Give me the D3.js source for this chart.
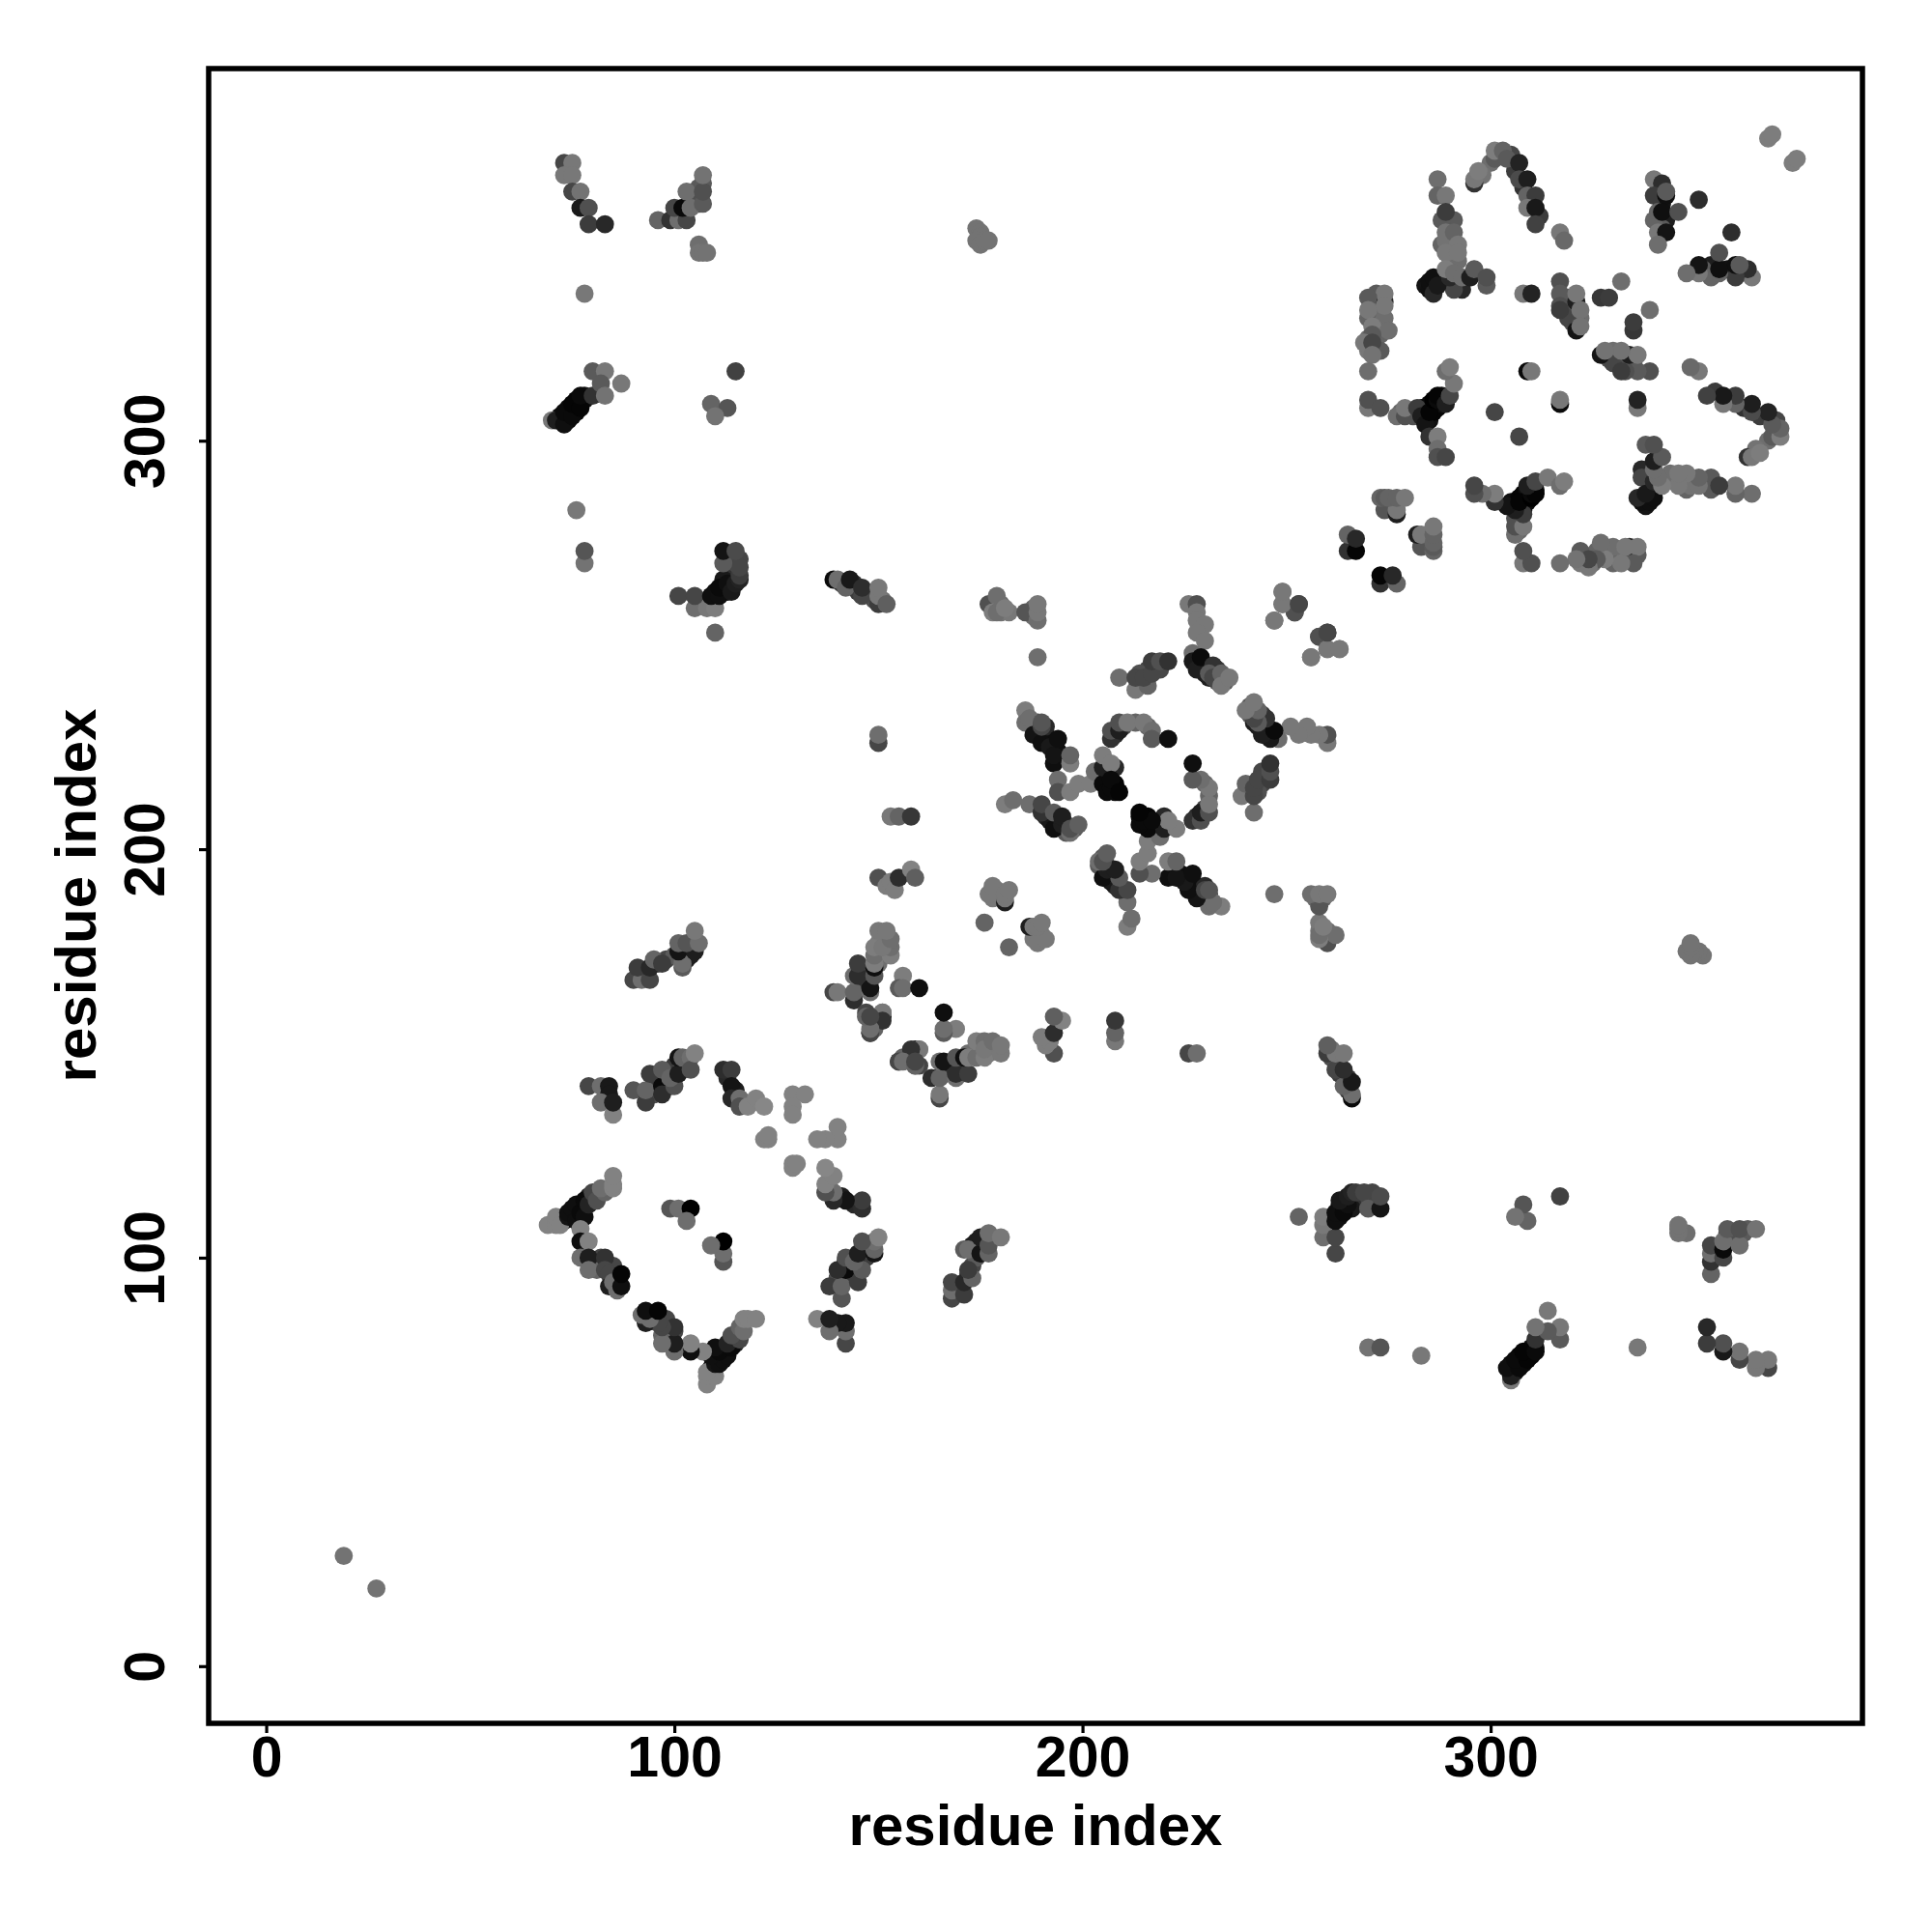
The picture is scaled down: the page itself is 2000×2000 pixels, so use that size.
<!DOCTYPE html>
<html><head><meta charset="utf-8">
<script src="https://cdnjs.cloudflare.com/ajax/libs/d3/7.8.5/d3.min.js"></script>
<style>html,body{margin:0;padding:0;background:#fff}svg{display:block}</style>
</head><body>
<svg id="chart" width="2000" height="2000"></svg>
<script>
// Each row: residue i, residue j, contact score. A contact (i,j) is also a contact (j,i).
const tailContacts = [[19,27,115]];
const packedA = [[73,109,15],[75,110,10],[75,111,15],[77,113,10],[79,114,25],[79,115,40],[81,116,70],[77,109,20],
 [80,99,40],[81,98,90],[85,96,60],[85,98,70],[86,94,40],[82,100,70],[81,97,100],
 [95,144,70],[98,143,30],[96,142,60],[99,142,40],[100,147,60],[103,147,40],[102,147,80],[95,140,80],
 [113,144,40],[115,141,30],[117,138,90],[119,138,120],
 [93,170,70],[98,173,70],[103,173,30],[104,174,30],[104,176,70],[100,174,90],[96,172,80],[92,169,60]];
const packedC = [[146,166,60],[147,168,50],[146,170,70],[148,168,90],[150,177,120],[151,178,120],[151,174,115],[150,172,110],
 [141,265,60],[144,265,50],[145,263,60],[148,262,90],[149,261,80],[151,261,110],[179,190,120],[180,189,120],[178,188,120],
 [180,258,115],[180,260,110],[182,258,120],[188,259,100],[188,257,110]];
const packedD = [[189,229,20],[191,228,15],[189,231,70],[191,230,40],[193,225,20],[194,224,15],
 [191,208,40],[192,207,25],[194,207,40],[196,206,70],[196,204,90],[198,205,90],
 [208,214,10],[206,216,10],[208,216,5],[208,220,40],[206,218,10],[210,230,70],[208,228,40],[213,231,100],[216,230,100],
 [214,240,70],[215,241,80],[218,245,60],[216,244,70],[219,244,70],[214,243,80],
 [229,245,15],[230,243,30],[233,244,60],[235,241,90],[233,241,90]];
const packedG = [[283,308,10],[284,306,10],[285,305,15],[285,309,10],[286,307,5],[287,308,5],[288,309,15],[288,311,20],
 [284,338,20],[286,338,15],[288,340,25],[292,338,80],[293,337,40],[291,339,30],[291,337,70],
 [271,334,100],[272,330,110],[273,326,100],[272,336,90],[272,322,110],[273,331,110],
 [280,307,90],[281,306,80],[278,307,100],[270,322,120],[274,327,100],[273,322,90],[270,330,100],[270,325,110],[274,330,110],
 [290,348,110],[291,347,110],[290,345,115],[292,344,110],[290,352,110],[291,354,90],[288,354,90],[290,350,110],[288,348,100],[289,349,115],
 [342,358,20],[343,354,30],[342,352,90],[340,354,100],
 [318,334,70],[319,335,90],[319,331,60],[320,329,80],[322,330,110],[320,333,80],[321,329,70],[321,331,80],[318,335,90],[319,330,70],
 [302,370,100],[305,370,70],[306,366,60],[308,362,50],[310,358,40],[312,355,60],[300,368,110],[298,365,115]];
const packedH = [[72,305,20],[74,305,10],[74,308,10],[76,307,5],[76,310,5],[78,310,15],[78,311,20],[72,306,15],
 [110,263,15],[112,264,10],[113,263,15],[114,267,40],[115,268,50],[115,270,70],[116,271,70],[112,266,25],
 [104,359,80],[105,359,90],[106,358,70],[106,360,80],[106,362,90],[107,363,90]];
const blockA1 = [[79,142,70],[82,142,110],[84,142,25],[84,140,25],[82,138,110],[85,135,130],[85,138,30],
 [90,141,85],[93,138,60],[93,141,100],[94,145,60],[97,142,10],[97,140,45],[100,142,80],[97,146,90],[99,144,100],
 [101,145,30],[101,149,20],[102,149,100],[104,149,110],[104,146,80],[105,150,130],
 [112,146,45],[114,146,60],[114,142,20],[114,139,40],[116,139,110],[116,137,80],[118,137,130],[120,139,130],[122,137,135],
 [129,140,130],[132,140,130],[129,137,130],[129,135,130],[122,129,130],[123,129,130],[123,130,130]];
const blockA2 = [[69,108,130],[71,108,130],[71,110,130],[72,108,130],[74,110,20],[74,111,15],[75,112,15],[76,109,15],[76,113,15],
 [77,111,10],[78,110,15],[78,114,10],[79,113,35],[80,116,70],[81,114,80],[83,116,100],[82,117,110],[85,117,130],[85,118,130],[85,120,130],
 [77,107,130],[77,104,15],[79,104,130],[77,100,110],[79,100,30],[79,97,110],[83,100,50],[83,97,70],[84,96,70],
 [84,93,30],[86,92,110],[85,94,110],[87,93,15],[87,96,5]];
const blockA3 = [[99,112,85],[101,112,110],[104,112,0],[103,109,110]];
const blockB1 = [[90,168,70],[92,168,110],[91,171,60],[94,168,70],[94,171,40],[95,173,100],[97,172,60],
 [102,171,90],[102,172,110],[101,175,20],[105,175,30],[101,177,100],[103,177,85],[106,177,110],[105,180,120]];
const blockC1 = [[144,163,45],[139,165,70],[140,165,120],[144,165,100],[148,165,110],[148,166,20],[144,169,110],[145,169,45],[149,169,85],
 [145,172,60],[149,171,15],[149,172,125],[149,174,110],[153,174,125],[153,176,110],[149,176,125],[151,176,120],[153,178,110],[150,180,120],[152,180,120],
 [156,169,125],[155,166,90],[156,166,110],[160,166,15],[147,159,110],[147,160,70],[151,159,20],[151,160,110],[148,155,50],[149,156,100]];
const blockC2 = [[150,193,80],[152,191,125],[153,192,125],[154,190,125],[155,193,45],[158,195,130],[159,193,95],
 [150,226,70],[150,228,110],[153,208,120],[155,208,100],[158,208,55],
 [139,266,10],[140,266,110],[142,264,100],[143,266,25],[146,262,70],[146,264,45],[150,260,60],[150,262,120],[150,264,120],[152,260,95]];
const blockC3 = [[151,160,120],[151,158,50],[148,155,70],[148,156,110],[147,159,100],[148,159,70]];
const blockD1 = [[176,182,100],[181,187,30],[177,189,120],[178,191,120],[181,188,120],[181,189,120],[182,190,120],
 [177,260,80],[179,262,110],[178,258,125],[179,258,110],[181,259,125],
 [186,258,85],[189,256,110],[189,258,120],[189,260,120],[189,247,110],[174,352,115],[175,351,115],[175,350,115],[174,349,115],[175,348,115],[176,349,115],[177,349,115]];
const blockD2 = [[186,234,125],[186,231,110],[187,232,110],[188,228,20],[190,226,15],[190,230,70],[190,231,85],[192,225,25],[193,221,15],[193,223,20],[194,227,15],[197,221,125],[197,223,100],
 [194,217,110],[194,214,80],[197,214,125],[199,216,125],[202,216,125]];
const blockD3 = [[181,211,125],[183,212,110],[187,211,110],[190,209,50],[190,211,70],[193,205,15],[193,209,90],[195,206,30],[195,208,30],[197,204,110],[197,205,80],[199,206,95]];
const blockE1 = [[203,219,110],[205,216,10],[205,220,30],[205,223,125],[207,221,125],[206,214,10],[207,215,10],[207,217,10],[209,214,5],
 [207,227,50],[207,229,80],[209,229,30],[209,231,80],[211,231,120],[215,231,120],[217,229,110],[217,227,90],[221,227,15]];
const blockE2 = [[209,242,110],[213,239,120],[216,240,100],[213,242,70],[215,242,70],[217,243,70],[217,246,60],[219,246,80],[221,246,50]];
const blockE3 = [[226,260,120],[228,260,80],[228,258,120],[228,256,120],[230,255,120],[228,253,120],[230,251,120],[227,248,110],[227,246,25],
 [228,244,30],[229,247,10],[232,245,50],[231,242,30],[231,243,90],[232,242,70],[234,243,100],[234,240,120],[236,242,120]];
const blockF1 = [[249,263,125],[249,260,120],[247,256,120],[252,258,60],[253,260,50],[256,247,120],[258,252,80],[260,249,120],[263,249,120],[260,253,70],
 [265,273,50],[265,277,100],[267,273,5],[267,276,40],
 [274,283,85],[277,282,30],[277,283,120],[273,286,100],[274,286,90],[275,286,100],[277,286,100],[279,286,120]];
const blockG1 = [[274,334,40],[274,336,120],[270,335,90],[270,332,120],[274,333,120],[271,328,125],[275,327,110],[271,326,90],[269,324,120],[271,324,70],[271,321,115],[270,317,110],
 [270,308,120],[270,310,80],[273,308,80],[277,306,110],[279,306,80],[279,308,120],
 [282,308,60],[283,306,30],[284,304,20],[285,307,5],[286,310,0],[287,310,10],[287,311,5],[289,309,30],[290,311,70],[291,314,120],[289,317,110],[290,318,125],
 [285,301,50],[287,301,125],[287,298,110],[287,296,80],[289,296,70]];
const blockG2 = [[287,364,110],[287,360,100],[289,360,120],[289,356,60],[289,351,115],[291,351,100],[292,348,120],[289,346,120],[292,346,120],
 [285,337,15],[285,339,15],[286,336,40],[286,340,15],[287,338,25],[290,340,40],[289,342,125],[291,341,110],[293,340,110],[295,340,30],[296,342,90],[299,338,90],[299,340,80]];
const blockG3 = [[296,363,50],[296,364,120],[297,366,125],[301,369,90],[301,371,125],[303,371,100],[304,369,90],[307,368,35],[307,364,75],[309,364,30],
 [309,360,100],[311,360,60],[309,357,120],[311,357,25],[311,353,65],[317,351,120],[318,349,105]];
const blockG4 = [[308,336,120],[310,336,35],[317,339,80],[317,336,90],[317,333,80],[317,332,60],[321,334,30],[321,336,120],[322,332,115],[321,327,20],[322,328,115],
 [327,335,55],[329,335,60],[332,339,110],[309,317,10],[310,317,120],[301,307,70]];
const blockG5 = [[340,364,120],[342,363,45],[340,360,60],[343,360,15],[343,361,90],[341,356,100],[342,356,15],[346,356,80],[341,351,120],[343,351,20],[341,348,110],[351,359,45],[368,374,125],[369,375,125]];
const farH1 = [[73,368,70],[75,368,120],[73,365,120],[75,365,120],[75,361,70],[77,361,115],[77,357,25],[79,357,80],[79,353,60],[83,353,40],
 [96,354,100],[99,354,50],[101,354,110],[103,354,70],[100,357,70],[102,357,10],[104,357,110],[103,361,110],[107,358,90],[107,361,80],[107,365,115],
 [106,348,110],[106,346,115],[107,346,115],[108,346,115],[78,336,120]];
const farH2 = [[70,305,120],[71,305,30],[73,304,15],[73,307,10],[75,306,10],[75,309,5],[77,308,5],[77,311,10],[80,311,50],
 [80,317,90],[83,317,120],[82,314,90],[83,311,115],[87,314,120],[115,317,65],[109,309,100],[113,308,85],[110,306,115],
 [76,283,120],[78,270,115],[78,273,85]];
const farH3 = [[101,262,70],[105,259,110],[108,259,120],[110,259,125],[105,262,70],[110,253,100],
 [109,262,15],[111,262,15],[111,264,10],[113,265,15],[114,263,25],[115,265,30],[116,266,35],[116,267,60],[116,269,70],[112,270,90],[112,273,20],[115,273,75]];

const contacts = [tailContacts, packedA, packedC, packedD, packedG, packedH, blockA1, blockA2, blockA3, blockB1, blockC1, blockC2, blockC3, blockD1, blockD2, blockD3,
  blockE1, blockE2, blockE3, blockF1, blockG1, blockG2, blockG3, blockG4, blockG5, farH1, farH2, farH3].flat();
const tickValues = [0, 100, 200, 300];
const axisTitle = "residue index";

const plotLeft = 216, plotRight = 1928, plotTop = 71, plotBottom = 1784;
const x = d3.scaleLinear().domain([-14.1, 391.1]).range([plotLeft, plotRight]);
const y = d3.scaleLinear().domain([-14.0, 391.1]).range([plotBottom, plotTop]);
const shade = d3.scaleLinear().domain([0, 135]).range(["#000000", "#878787"]);

const svg = d3.select("#chart");
const font = "'Liberation Sans', Arial, sans-serif";

const both = contacts.flatMap(([i, j, s]) => [[i, j, s], [j, i, s]]);
svg.append("g").selectAll("circle").data(both).join("circle")
  .attr("cx", d => x(d[0])).attr("cy", d => y(d[1])).attr("r", 9.4)
  .attr("fill", d => shade(d[2]));

svg.append("rect").attr("x", plotLeft).attr("y", plotTop).attr("width", plotRight - plotLeft).attr("height", plotBottom - plotTop)
  .attr("fill", "none").attr("stroke", "#000").attr("stroke-width", 5.5);

const xAxis = svg.append("g").attr("transform", `translate(0,${plotBottom})`)
  .call(d3.axisBottom(x).tickValues(tickValues).tickFormat(d3.format("d")).tickSize(10));
const yAxis = svg.append("g").attr("transform", `translate(${plotLeft},0)`)
  .call(d3.axisLeft(y).tickValues(tickValues).tickFormat(d3.format("d")).tickSize(10));
[xAxis, yAxis].forEach(a => {
  a.select(".domain").remove();
  a.selectAll(".tick line").attr("stroke", "#000").attr("stroke-width", 3.2);
  a.selectAll(".tick text").attr("fill", "#000").attr("font-family", font).attr("font-weight", "bold").attr("font-size", 59);
});
xAxis.selectAll(".tick text").attr("dy", "0").attr("y", 55);
yAxis.selectAll(".tick text").attr("x", 0).attr("dy", "0")
  .attr("text-anchor", "middle")
  .attr("transform", "translate(-46,0) rotate(-90)");

svg.append("text").attr("x", 1072).attr("y", 1910).attr("text-anchor", "middle")
  .attr("font-family", font).attr("font-weight", "bold").attr("font-size", 60).text(axisTitle);
svg.append("text").attr("transform", "translate(99,927) rotate(-90)").attr("text-anchor", "middle")
  .attr("font-family", font).attr("font-weight", "bold").attr("font-size", 60).text(axisTitle);
</script>
</body></html>
